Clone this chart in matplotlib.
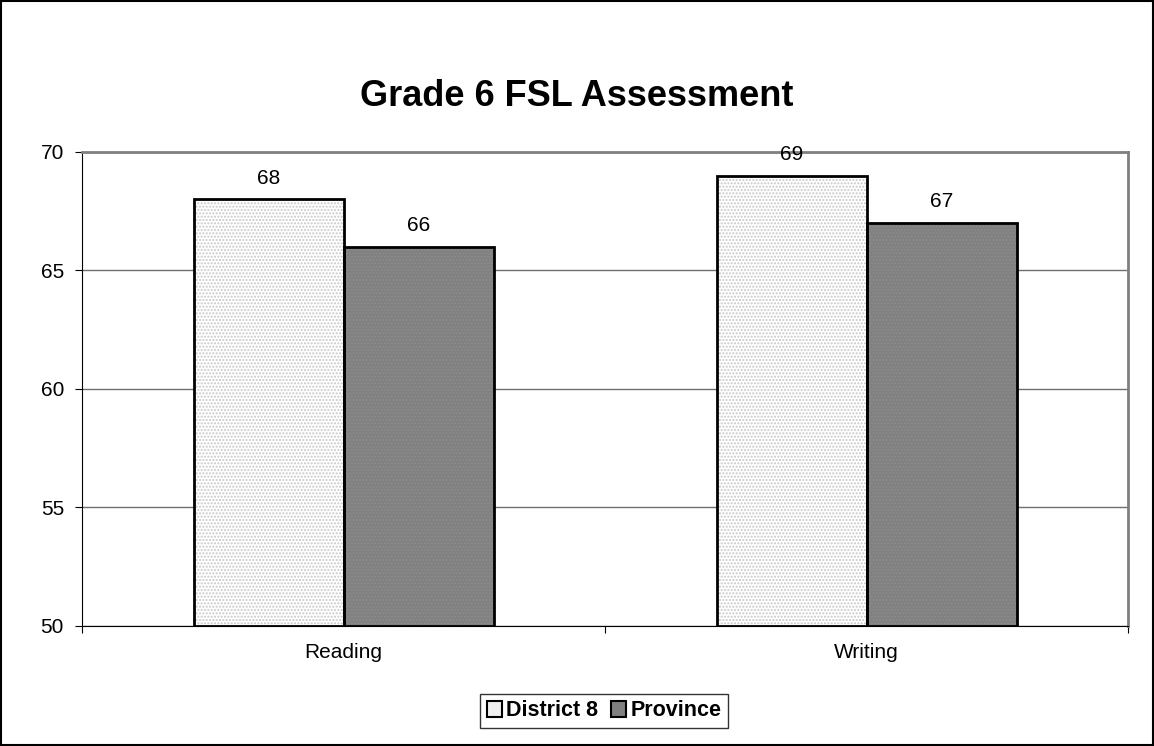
import numpy as np
import matplotlib.pyplot as plt
from matplotlib.patches import Rectangle

plt.rcParams['font.family'] = ['Liberation Sans', 'DejaVu Sans']

categories = ['Reading', 'Writing']
district = [68, 69]
province = [66, 67]
series_names = ['District 8', 'Province']

fig = plt.figure(figsize=(11.54, 7.46), dpi=100)
ax = fig.add_axes([82/1154, 1-626/746, (1128-82)/1154, (626-152)/746])

x = np.arange(len(categories))
w = 150/523

# dotted fills first, then black outlines on top
ax.bar(x - w/2, np.array(district) - 50, w, bottom=50, color='white', hatch='.....',
       edgecolor='#c8c8c8', linewidth=0, zorder=2)
ax.bar(x + w/2, np.array(province) - 50, w, bottom=50, color='#808080', hatch='.....',
       edgecolor='#8c8c8c', linewidth=0, zorder=2)
ax.bar(x - w/2, np.array(district) - 50, w, bottom=50, fill=False, edgecolor='black',
       linewidth=2, zorder=3)
ax.bar(x + w/2, np.array(province) - 50, w, bottom=50, fill=False, edgecolor='black',
       linewidth=2, zorder=3)

for i in range(len(categories)):
    ax.text(x[i] - w/2, district[i] + 0.5, str(district[i]), ha='center', va='bottom', fontsize=15)
    ax.text(x[i] + w/2, province[i] + 0.5, str(province[i]), ha='center', va='bottom', fontsize=15)

ax.set_xlim(-0.5, 1.5)
ax.set_ylim(50, 70)
ax.set_yticks([50, 55, 60, 65, 70])
ax.yaxis.grid(True, color='#707070', linewidth=1, zorder=0)
ax.set_axisbelow(True)

ax.set_xticks([-0.5, 0.5, 1.5])
ax.set_xticklabels([])
ax.set_xticks(x, minor=True)
ax.set_xticklabels(categories, minor=True, fontsize=15)
ax.tick_params(axis='x', which='minor', length=0, pad=12)
ax.tick_params(axis='x', which='major', length=5, direction='out', color='black')
ax.tick_params(axis='y', length=5, direction='out', labelsize=15, pad=8)

for s in ['top', 'right']:
    ax.spines[s].set_color('#808080')
    ax.spines[s].set_linewidth(2)
ax.spines['left'].set_color('black')
ax.spines['bottom'].set_color('black')

fig.text(0.5, 1-97/746, 'Grade 6 FSL Assessment', ha='center', va='center',
         fontsize=26, fontweight='bold')

# legend
h1 = Rectangle((0, 0), 1, 1, facecolor='#f0f0f0', edgecolor='black', linewidth=1.5)
h2 = Rectangle((0, 0), 1, 1, facecolor='#808080', edgecolor='black', linewidth=1.5)
leg = fig.legend([h1, h2], series_names, loc='center', bbox_to_anchor=(604/1154, 1-711/746),
                 ncol=2, frameon=True, fancybox=False, edgecolor='black',
                 prop={'weight': 'bold', 'size': 15.5}, handlelength=0.7, handleheight=0.7,
                 handletextpad=0.2, columnspacing=0.6, borderpad=0.3)
leg.get_frame().set_linewidth(1)

# outer border
fig.add_artist(Rectangle((0.001, 0.001), 0.998, 0.997, transform=fig.transFigure,
                         fill=False, edgecolor='black', linewidth=1.5))

plt.savefig('out.png')
plt.close()
